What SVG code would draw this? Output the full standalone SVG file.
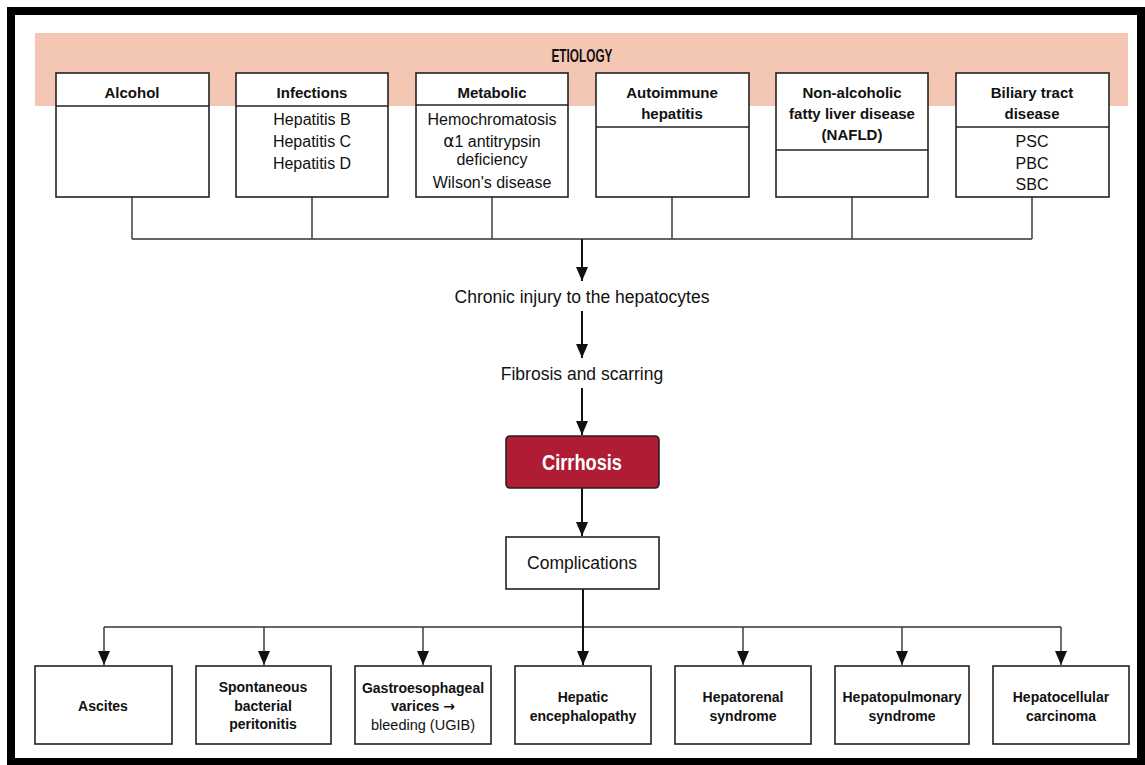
<svg xmlns="http://www.w3.org/2000/svg" width="1145" height="765" viewBox="0 0 1145 765">
  <defs>
    <marker id="arrow" viewBox="0 0 14 12" refX="14" refY="6" markerWidth="14" markerHeight="12" markerUnits="userSpaceOnUse" orient="auto">
      <path d="M0,0 L14,6 L0,12 Z" fill="#111"/>
    </marker>
    <style>
      .box { fill: #fff; stroke: #222; stroke-width: 1.6; }
      .div { stroke: #222; stroke-width: 1.4; }
      .hdr { font-family: "Liberation Sans", Arial, sans-serif; font-weight: bold; font-size: 15px; fill: #111; text-anchor: middle; dominant-baseline: central; }
      .item { font-family: "Liberation Sans", Arial, sans-serif; font-size: 16px; fill: #111; text-anchor: middle; dominant-baseline: central; }
      .step { font-family: "Liberation Sans", Arial, sans-serif; font-size: 17.5px; fill: #111; text-anchor: middle; dominant-baseline: central; }
      .comp { font-family: "Liberation Sans", Arial, sans-serif; font-weight: bold; font-size: 14px; fill: #111; text-anchor: middle; dominant-baseline: central; }
      .compr { font-family: "Liberation Sans", Arial, sans-serif; font-size: 14.5px; fill: #111; text-anchor: middle; dominant-baseline: central; }
      .tree { fill: none; stroke: #333; stroke-width: 1.4; }
      .flow { fill: none; stroke: #111; stroke-width: 2; }
    </style>
  </defs>

  <!-- page frame -->
  <rect x="0" y="0" width="1145" height="765" fill="#fff"/>
  <rect x="11" y="11" width="1130" height="751" fill="#fff" stroke="#000" stroke-width="8"/>

  <!-- etiology band -->
  <g id="etiology-band">
    <rect x="35" y="33" width="1093" height="73" fill="#f4c7b4"/>
    <text class="hdr" x="582" y="55" font-size="19" textLength="61" lengthAdjust="spacingAndGlyphs" style="font-size:19px">ETIOLOGY</text>
  </g>

  <!-- connectors -->
  <g id="connectors">
    <path class="tree" d="M132,197 V239 M312,197 V239 M492,197 V239 M672,197 V239 M852,197 V239 M1032,197 V239 M132,239 H1032"/>
    <path class="flow" d="M582,239 V281" marker-end="url(#arrow)"/>
    <path class="flow" d="M582,311 V358" marker-end="url(#arrow)"/>
    <path class="flow" d="M582,388 V435" marker-end="url(#arrow)"/>
    <path class="flow" d="M582,488 V536" marker-end="url(#arrow)"/>
    <path class="tree" d="M104,627 H1061"/>
    <path class="flow" d="M583,589 V665" marker-end="url(#arrow)"/>
    <path class="tree" d="M104,627 V665" marker-end="url(#arrow)"/>
    <path class="tree" d="M264,627 V665" marker-end="url(#arrow)"/>
    <path class="tree" d="M423,627 V665" marker-end="url(#arrow)"/>
    <path class="tree" d="M743,627 V665" marker-end="url(#arrow)"/>
    <path class="tree" d="M902,627 V665" marker-end="url(#arrow)"/>
    <path class="tree" d="M1061,627 V665" marker-end="url(#arrow)"/>
  </g>

  <!-- etiology boxes -->
  <g id="alcohol">
    <rect class="box" x="56" y="73" width="153" height="124"/>
    <line class="div" x1="56" y1="106" x2="209" y2="106"/>
    <text class="hdr" x="132" y="92">Alcohol</text>
  </g>
  <g id="infections">
    <rect class="box" x="236" y="73" width="152" height="124"/>
    <line class="div" x1="236" y1="106" x2="388" y2="106"/>
    <text class="hdr" x="312" y="92">Infections</text>
    <text class="item" x="312" y="119">Hepatitis B</text>
    <text class="item" x="312" y="141">Hepatitis C</text>
    <text class="item" x="312" y="163">Hepatitis D</text>
  </g>
  <g id="metabolic">
    <rect class="box" x="416" y="73" width="152" height="124"/>
    <line class="div" x1="416" y1="105" x2="568" y2="105"/>
    <text class="hdr" x="492" y="92">Metabolic</text>
    <text class="item" x="492" y="119">Hemochromatosis</text>
    <text class="item" x="492" y="141"><tspan font-family="DejaVu Sans, sans-serif" font-size="17">α</tspan>1 antitrypsin</text>
    <text class="item" x="492" y="159">deficiency</text>
    <text class="item" x="492" y="182">Wilson's disease</text>
  </g>
  <g id="autoimmune">
    <rect class="box" x="596" y="73" width="153" height="124"/>
    <line class="div" x1="596" y1="127" x2="749" y2="127"/>
    <text class="hdr" x="672" y="92">Autoimmune</text>
    <text class="hdr" x="672" y="113">hepatitis</text>
  </g>
  <g id="nafld">
    <rect class="box" x="776" y="73" width="152" height="124"/>
    <line class="div" x1="776" y1="150" x2="928" y2="150"/>
    <text class="hdr" x="852" y="92">Non-alcoholic</text>
    <text class="hdr" x="852" y="113">fatty liver disease</text>
    <text class="hdr" x="852" y="134">(NAFLD)</text>
  </g>
  <g id="biliary">
    <rect class="box" x="956" y="73" width="153" height="124"/>
    <line class="div" x1="956" y1="127" x2="1109" y2="127"/>
    <text class="hdr" x="1032" y="92">Biliary tract</text>
    <text class="hdr" x="1032" y="113">disease</text>
    <text class="item" x="1032" y="141">PSC</text>
    <text class="item" x="1032" y="163">PBC</text>
    <text class="item" x="1032" y="184">SBC</text>
  </g>

  <!-- pathway -->
  <g id="chronic-injury">
    <text class="step" x="582" y="297">Chronic injury to the hepatocytes</text>
  </g>
  <g id="fibrosis">
    <text class="step" x="582" y="374">Fibrosis and scarring</text>
  </g>
  <g id="cirrhosis">
    <rect x="506" y="436" width="153" height="52" rx="4" fill="#b01c33" stroke="#222" stroke-width="1.6"/>
    <text x="582" y="462" font-family="Liberation Sans, Arial, sans-serif" font-weight="bold" font-size="22" fill="#fff" text-anchor="middle" dominant-baseline="central" textLength="80" lengthAdjust="spacingAndGlyphs">Cirrhosis</text>
  </g>
  <g id="complications">
    <rect class="box" x="506" y="537" width="153" height="52"/>
    <text class="step" x="582" y="563">Complications</text>
  </g>

  <!-- complication boxes -->
  <g id="ascites">
    <rect class="box" x="35" y="666" width="137" height="78"/>
    <text class="comp" x="103" y="706">Ascites</text>
  </g>
  <g id="sbp">
    <rect class="box" x="196" y="666" width="135" height="78"/>
    <text class="comp" x="263" y="687">Spontaneous</text>
    <text class="comp" x="263" y="706">bacterial</text>
    <text class="comp" x="263" y="724">peritonitis</text>
  </g>
  <g id="varices">
    <rect class="box" x="355" y="666" width="136" height="78"/>
    <text class="comp" x="423" y="688">Gastroesophageal</text>
    <text class="comp" x="423" y="706">varices <tspan font-family="DejaVu Sans, sans-serif">→</tspan></text>
    <text class="compr" x="423" y="725">bleeding (UGIB)</text>
  </g>
  <g id="encephalopathy">
    <rect class="box" x="515" y="666" width="136" height="78"/>
    <text class="comp" x="583" y="697">Hepatic</text>
    <text class="comp" x="583" y="716">encephalopathy</text>
  </g>
  <g id="hepatorenal">
    <rect class="box" x="675" y="666" width="136" height="78"/>
    <text class="comp" x="743" y="697">Hepatorenal</text>
    <text class="comp" x="743" y="716">syndrome</text>
  </g>
  <g id="hepatopulmonary">
    <rect class="box" x="835" y="666" width="134" height="78"/>
    <text class="comp" x="902" y="697">Hepatopulmonary</text>
    <text class="comp" x="902" y="716">syndrome</text>
  </g>
  <g id="hcc">
    <rect class="box" x="993" y="666" width="136" height="78"/>
    <text class="comp" x="1061" y="697">Hepatocellular</text>
    <text class="comp" x="1061" y="716">carcinoma</text>
  </g>
</svg>
